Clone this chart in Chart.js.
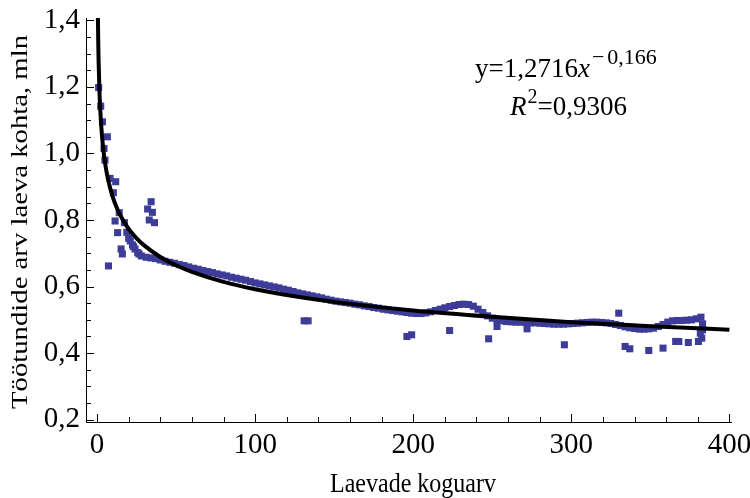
<!DOCTYPE html>
<html>
<head>
<meta charset="utf-8">
<script src="https://cdn.jsdelivr.net/npm/chart.js@4.4.1/dist/chart.umd.min.js"></script>
<style>
  html, body { margin: 0; padding: 0; background: #fff; }
  #wrap { width: 750px; height: 498px; }
</style>
</head>
<body>
<div id="wrap"><canvas id="myChart" width="750" height="498"></canvas></div>
<script>
// main band of points (ships total vs work hours per ship, mln)
var bandX = [28,31,34,37,40,43,46,49,52,55,58,61,64,67,70,73,76,79,82,85,88,91,94,97,100,
  103,106,109,112,115,118,121,124,127,130,133,136,139,142,145,148,151,154,157,160,163,166,169,
  172,175,178,181,184,187,190,193,196,199,202,205,208,211,214,217,220,223,226,229,232,235,238,
  241,244,247,250,253,256,259,262,265,268,271,274,277,280,283,286,289,292,295,298,301,304,307,
  310,313,316,319,322,325,328,331,334,337,340,343,346,349,352,355,358,361,364,367,370,373,376,379,382]
var bandY = [.692,.688,.686,.684,.680,.676,.673,.670,.666,.663,.659,.655,.652,.648,.645,.642,.638,.635,.632,.628,.625,.622,.619,.615,.611,
  .608,.605,.602,.599,.596,.592,.589,.585,.581,.578,.575,.572,.569,.566,.562,.559,.556,.554,.552,.550,.547,.545,.542,
  .540,.537,.535,.532,.530,.528,.526,.524,.522,.520,.519,.519,.521,.524,.528,.532,.536,.540,.543,.546,.547,.546,.541,
  .532,.522,.512,.505,.500,.497,.495,.494,.493,.493,.492,.491,.491,.490,.489,.488,.487,.487,.487,.488,.489,.490,.491,
  .492,.493,.493,.492,.491,.489,.486,.483,.479,.476,.474,.472,.472,.473,.475,.480,.486,.493,.497,.498,.498,.499,.500,.503,.508]

// first ships and scattered points
var looseX = [1,2.3,3.4,4.4,5,6.5,7.2,8.2,10.3,11.4,11.8,13,14,15.2,16,17.3,18.8,20,21,22.4,23,24,25.7,26.5,
  32,33,34.2,35,36.3,
  131,133.5,196,199,223,247.7,253,272,295.6,330,334,337,349,358,366,368,374,380.4,381.6,382.5,383,383]
var looseY = [1.198,1.142,1.095,1.015,.98,1.05,.662,.925,.882,.797,.915,.762,.822,.713,.698,.792,.763,.745,.737,.725,.72,.713,.702,.698,
  .833,.80,.855,.823,.792,
  .497,.497,.45,.455,.468,.443,.48,.473,.425,.52,.42,.413,.408,.415,.435,.435,.432,.435,.46,.445,.47,.488]

// fitted curve y = 1,2716 x^-0,166
var fitX = [0.5,0.56,0.7,0.85,1,1.5,2,3,4,5,7,10,13,16,20,25,30,40,50,60,80,100,130,160,200,250,300,350,400]
var fitY = [1.427,1.40,1.349,1.306,1.272,1.189,1.133,1.060,1.010,.973,.921,.868,.831,.803,.773,.745,.723,.689,.664,.644,.614,.592,.567,.548,.528,.509,.493,.481,.470]

var xTicks = [0,100,200,300,400]
var yTicks = [0.2,0.4,0.6,0.8,1.0,1.2,1.4]

var serif = '"Liberation Serif", "Times New Roman", serif'
var dotColor = '#3d3d99'

var pts = []
for (var i = 0; i < bandX.length; i++) pts.push({x: bandX[i], y: bandY[i]})
for (var i = 0; i < looseX.length; i++) pts.push({x: looseX[i], y: looseY[i]})
var fit = []
for (var i = 0; i < fitX.length; i++) fit.push({x: fitX[i], y: fitY[i]})

function comma(v, d) { return v.toFixed(d).replace('.', ',') }

// ticks pointing inward, major + minor
var innerTicks = {
  id: 'innerTicks',
  afterDraw: function(chart) {
    var ctx = chart.ctx, a = chart.chartArea
    var xs = chart.scales.x, ys = chart.scales.y
    ctx.save()
    ctx.strokeStyle = '#000'
    ctx.lineWidth = 1
    ctx.beginPath()
    for (var k = 0; k <= 20; k++) {
      var v = k * 20
      var px = Math.round(xs.getPixelForValue(v)) + 0.5
      var len = (k % 5 == 0) ? 8 : 5
      ctx.moveTo(px, a.bottom)
      ctx.lineTo(px, a.bottom - len)
    }
    for (var k = 4; k <= 28; k++) {
      var v = k * 0.05
      var py = Math.round(ys.getPixelForValue(v)) + 0.5
      var len = (k % 4 == 0) ? 8 : 5
      ctx.moveTo(a.left, py)
      ctx.lineTo(a.left + len, py)
    }
    ctx.stroke()
    ctx.restore()
  }
}

// equation text and the axis titles
var labels = {
  id: 'labels',
  afterDraw: function(chart) {
    var ctx = chart.ctx, a = chart.chartArea
    ctx.save()
    ctx.fillStyle = '#000'
    ctx.textBaseline = 'alphabetic'
    ctx.textAlign = 'left'
    var x0 = 475, b1 = 77
    ctx.font = '27px ' + serif
    ctx.fillText('y=1,2716', x0, b1)
    x0 += ctx.measureText('y=1,2716').width
    ctx.font = 'italic 27px ' + serif
    ctx.fillText('x', x0, b1)
    x0 += ctx.measureText('x').width + 2
    ctx.font = '22px ' + serif
    ctx.fillText('\u2212', x0, b1 - 13)
    x0 += ctx.measureText('\u2212').width + 3
    ctx.fillText('0,166', x0, b1 - 13)

    var x1 = 510, b2 = 115
    ctx.font = 'italic 27px ' + serif
    ctx.fillText('R', x1, b2)
    x1 += ctx.measureText('R').width + 1
    ctx.font = '20px ' + serif
    ctx.fillText('2', x1, b2 - 12)
    x1 += ctx.measureText('2').width
    ctx.font = '27px ' + serif
    ctx.fillText('=0,9306', x1, b2)
    ctx.restore()

    // x title
    ctx.save()
    ctx.fillStyle = '#000'
    ctx.translate(413, 485)
    ctx.scale(1, 1.15)
    ctx.font = '24px ' + serif
    ctx.textAlign = 'center'
    ctx.textBaseline = 'middle'
    ctx.fillText('Laevade koguarv', 0, 0)
    ctx.restore()

    // y title
    ctx.save()
    ctx.fillStyle = '#000'
    ctx.translate(21, 222)
    ctx.rotate(-Math.PI / 2)
    ctx.font = '23px ' + serif
    var t = 'Töötundide arv laeva kohta, mln'
    var w = ctx.measureText(t).width
    ctx.scale(374 / w, 1)
    ctx.textAlign = 'center'
    ctx.textBaseline = 'middle'
    ctx.fillText(t, 0, 0)
    ctx.restore()
  }
}

var myChart = document.getElementById('myChart').getContext('2d')
var chart = new Chart(myChart, {
  type: 'scatter',
  data: {
    datasets: [
      {
        label: 'fit',
        type: 'line',
        data: fit,
        borderColor: '#000',
        borderWidth: 4,
        pointRadius: 0,
        fill: false,
        cubicInterpolationMode: 'monotone',
        order: 0
      },
      {
        label: 'ships',
        data: pts,
        pointStyle: 'rect',
        pointRadius: 5,
        pointBorderWidth: 0,
        backgroundColor: dotColor,
        borderColor: dotColor,
        order: 1
      }
    ]
  },
  options: {
    responsive: false,
    animation: false,
    devicePixelRatio: 1,
    layout: { padding: { left: 0, top: 18, right: 19, bottom: 0 } },
    plugins: { legend: { display: false }, tooltip: { enabled: false } },
    scales: {
      x: {
        type: 'linear',
        min: -7,
        max: 401,
        afterBuildTicks: function(s) { s.ticks = xTicks.map(function(v) { return {value: v} }) },
        afterFit: function(s) { s.height = 76; s.paddingLeft = 0; s.paddingRight = 0 },
        grid: { display: true, drawOnChartArea: false, drawTicks: false },
        border: { display: true, color: '#000', width: 1 },
        ticks: { color: '#000', font: { family: serif, size: 29 }, padding: 6, maxRotation: 0,
          callback: function(v) { return String(v) } }
      },
      y: {
        type: 'linear',
        min: 0.193,
        max: 1.407,
        afterBuildTicks: function(s) { s.ticks = yTicks.map(function(v) { return {value: v} }) },
        afterFit: function(s) { s.width = 86; s.paddingTop = 0; s.paddingBottom = 0 },
        grid: { display: true, drawOnChartArea: false, drawTicks: false },
        border: { display: true, color: '#000', width: 1 },
        ticks: { color: '#000', font: { family: serif, size: 29 }, padding: 6,
          callback: function(v) { return comma(v, 1) } }
      }
    }
  },
  plugins: [innerTicks, labels]
})
</script>
</body>
</html>
